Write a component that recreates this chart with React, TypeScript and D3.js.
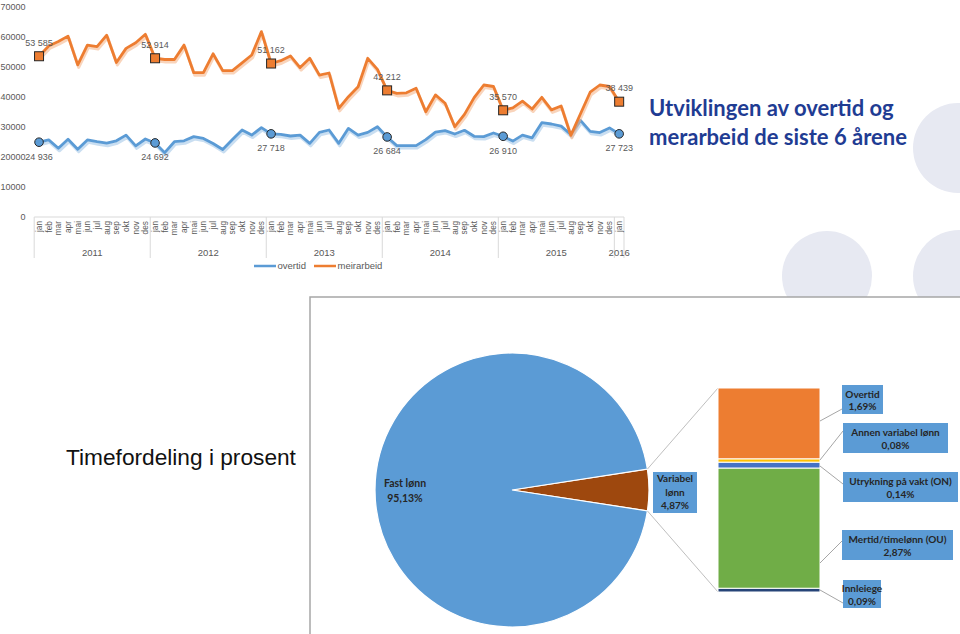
import React from 'react';
import * as d3 from 'd3';

// ---------- DATA ----------
const years = ['2011', '2012', '2013', '2014', '2015', '2016'];
const monthNames = ['jan', 'feb', 'mar', 'apr', 'mai', 'jun', 'jul', 'aug', 'sep', 'okt', 'nov', 'des'];
const seriesNames = ['overtid', 'meirarbeid'];

const overtid = [
  24936, 25700, 22900, 25900, 22600, 25700, 25100, 24600, 25400, 27300, 23700, 26000,
  24692, 21450, 25100, 25400, 26800, 26200, 24500, 22500, 25800, 29000, 27300, 29800,
  27718, 27550, 27000, 27300, 24550, 28200, 29000, 24550, 29550, 27300, 28200, 30100,
  26684, 23800, 23800, 23800, 25800, 28300, 28800, 27650, 28900, 26900, 26800, 28000,
  26910, 25300, 27300, 26400, 31450, 31000, 30300, 27500, 32200, 28550, 28150, 29700,
  27723,
];
const meirarbeid = [
  53585, 57000, 58500, 60300, 50700, 57300, 56800, 60600, 51500, 56200, 58100, 60900,
  52914, 52500, 52500, 57300, 48100, 48100, 54400, 48800, 48800, 51400, 54000, 61800,
  51162, 52100, 53700, 49800, 52900, 47300, 48000, 36200, 40100, 43400, 52900, 49200,
  42212, 41200, 41400, 42900, 35100, 40700, 37900, 30100, 34200, 39800, 44000, 43500,
  35570, 36400, 38600, 36000, 39900, 35700, 37000, 27200, 34400, 41600, 44000, 43500,
  38439,
];
const yTicks = [0, 10000, 20000, 30000, 40000, 50000, 60000, 70000];
const labeledIdx = [0, 12, 24, 36, 48, 60];

const pieNames = ['Variabel lønn', 'Fast lønn'];
const pieValues = [4.87, 95.13];
const pieValueText = ['4,87%', '95,13%'];

// stacked from bottom to top
const barNames = ['Innleiege', 'Mertid/timelønn (OU)', 'Utrykning på vakt (ON)', 'Annen variabel lønn', 'Overtid'];
const barValues = [0.09, 2.87, 0.14, 0.08, 1.69];
const barValueText = ['0,09%', '2,87%', '0,14%', '0,08%', '1,69%'];

// ---------- STYLE / LAYOUT ----------
const BLUE = '#5B9BD5';
const ORANGE = '#ED7D31';
const BROWN = '#9E480E';
const barColors = ['#264478', '#70AD47', '#4472C4', '#FFC000', '#ED7D31'];
const GRAY_TXT = '#595959';
const SANS = '"Liberation Sans", Arial, sans-serif';
const LATO = 'Lato, "Open Sans", sans-serif';
const LBL = 10;

// label boxes for bar segments (x, y, w, h) and leader start y
const barBoxes = [
  { x: 843, y: 580, w: 38, h: 28, ly: 590, tx: 843, ty: 603 },
  { x: 842, y: 530, w: 111, h: 30, ly: 563, tx: 842, ty: 541 },
  { x: 843, y: 472, w: 115, h: 30, ly: 466, tx: 843, ty: 484 },
  { x: 843, y: 423, w: 105, h: 30, ly: 460, tx: 843, ty: 431 },
  { x: 842, y: 385, w: 41, h: 29, ly: 421, tx: 842, ty: 409 },
];

const fmt = d3
  .formatLocale({ decimal: ',', thousands: '\u00a0', grouping: [3], currency: ['', ''] })
  .format(',d');

export default function App() {
  const categories = years.flatMap((yr, k) =>
    (k < years.length - 1 ? monthNames : monthNames.slice(0, 1)).map((m) => ({ year: yr, month: m }))
  );
  const n = categories.length;

  const x = d3.scaleBand<number>().domain(d3.range(n)).range([34.2, 624]);
  const cx = (i: number) => (x(i) as number) + x.bandwidth() / 2;
  const y = d3.scaleLinear().domain([0, 70000]).range([217, 7]);
  const line = d3
    .line<number>()
    .x((_, i) => cx(i))
    .y((d) => y(d));

  const yearGroups = years.map((yr) => {
    const idx = categories.map((c, i) => (c.year === yr ? i : -1)).filter((i) => i >= 0);
    const x0 = x(idx[0]) as number;
    const x1 = (x(idx[idx.length - 1]) as number) + x.bandwidth();
    return { yr, x0, x1 };
  });

  // pie
  const pcx = 512;
  const pcy = 490;
  const pr = 137;
  const half = (pieValues[0] / d3.sum(pieValues)) * Math.PI;
  const pie = d3
    .pie<number>()
    .sort(null)
    .startAngle(Math.PI / 2 - half)
    .endAngle(Math.PI / 2 - half + 2 * Math.PI)(pieValues);
  const arc = d3.arc<d3.PieArcDatum<number>>().innerRadius(0).outerRadius(pr);
  const a0 = Math.PI / 2 - half;
  const a1 = Math.PI / 2 + half;
  const upper = [pcx + pr * Math.sin(a0), pcy - pr * Math.cos(a0)];
  const lower = [pcx + pr * Math.sin(a1), pcy - pr * Math.cos(a1)];

  // bar of pie
  const bx0 = 718;
  const bx1 = 820;
  const yBar = d3.scaleLinear().domain([0, d3.sum(barValues)]).range([592, 388]);
  let acc = 0;
  const segs = barValues.map((v, i) => {
    const s = { y0: acc, y1: acc + v, i };
    acc += v;
    return s;
  });

  const series = [
    { name: seriesNames[0], values: overtid, color: BLUE, shadow: '#9DC3E6' },
    { name: seriesNames[1], values: meirarbeid, color: ORANGE, shadow: '#F4B183' },
  ];

  return (
    <svg
      width={960}
      height={634}
      style={{ position: 'absolute', left: 0, top: 0, background: '#fff' }}
    >
      <rect x={0} y={0} width={960} height={634} fill="#fff" />

      {/* decorative circles */}
      <circle cx={958} cy={148} r={45} fill="#E7E9F2" />
      <circle cx={827} cy={276} r={45} fill="#E7E9F2" />
      <circle cx={959} cy={276} r={46} fill="#E7E9F2" />

      {/* y axis labels */}
      {yTicks.map((t) => (
        <text key={t} x={25.5} y={y(t)} dy="0.35em" textAnchor="end" fontSize={9} fill={GRAY_TXT} fontFamily={SANS}>
          {t}
        </text>
      ))}

      {/* x axis */}
      <line x1={34.2} x2={624} y1={217} y2={217} stroke="#D9D9D9" strokeWidth={1} />
      {yearGroups.map((g) => (
        <line key={'s' + g.yr} x1={g.x0} x2={g.x0} y1={217} y2={258} stroke="#D9D9D9" strokeWidth={1} />
      ))}
      <line x1={624} x2={624} y1={217} y2={258} stroke="#D9D9D9" strokeWidth={1} />
      {categories.map((c, i) => (
        <text
          key={'m' + i}
          transform={`translate(${cx(i)},221) rotate(-90)`}
          textAnchor="end"
          dy="0.35em"
          fontSize={8.3}
          fill={GRAY_TXT}
          fontFamily={SANS}
        >
          {c.month}
        </text>
      ))}
      {yearGroups.map((g) => (
        <text key={'y' + g.yr} x={(g.x0 + g.x1) / 2} y={256} textAnchor="middle" fontSize={9.5} fill={GRAY_TXT} fontFamily={SANS}>
          {g.yr}
        </text>
      ))}

      {/* lines */}
      {series.map((s) => (
        <g key={s.name}>
          <path d={line(s.values) || ''} transform="translate(1,2.5)" fill="none" stroke={s.shadow} strokeWidth={3} opacity={0.55} strokeLinejoin="round" />
          <path d={line(s.values) || ''} fill="none" stroke={s.color} strokeWidth={2.8} strokeLinejoin="round" />
        </g>
      ))}

      {/* markers & labels */}
      {labeledIdx.map((i) => (
        <g key={'lab' + i}>
          <rect x={cx(i) - 4.5} y={y(meirarbeid[i]) - 4.5} width={9} height={9} fill={ORANGE} stroke="#262626" strokeWidth={1} />
          <circle cx={cx(i)} cy={y(overtid[i])} r={4.3} fill={BLUE} stroke="#262626" strokeWidth={1} />
          <text x={cx(i)} y={y(meirarbeid[i]) - 10.5} textAnchor="middle" fontSize={9} fill={GRAY_TXT} fontFamily={SANS}>
            {fmt(meirarbeid[i])}
          </text>
          <text x={cx(i)} y={y(overtid[i]) + 17.5} textAnchor="middle" fontSize={9} fill={GRAY_TXT} fontFamily={SANS}>
            {fmt(overtid[i])}
          </text>
        </g>
      ))}

      {/* legend */}
      <line x1={254} x2={276} y1={266} y2={266} stroke={BLUE} strokeWidth={2.5} />
      <text x={277.5} y={266} dy="0.35em" fontSize={9.5} fill={GRAY_TXT} fontFamily={SANS}>
        {seriesNames[0]}
      </text>
      <line x1={314} x2={336} y1={266} y2={266} stroke={ORANGE} strokeWidth={2.5} />
      <text x={337.5} y={266} dy="0.35em" fontSize={9.5} fill={GRAY_TXT} fontFamily={SANS}>
        {seriesNames[1]}
      </text>

      {/* title */}
      <text x={649} y={116} fontSize={22} fontWeight={700} fill="#1F3C93" fontFamily={LATO}>
        Utviklingen av overtid og
      </text>
      <text x={649} y={145} fontSize={22} fontWeight={700} fill="#1F3C93" fontFamily={LATO}>
        merarbeid de siste 6 årene
      </text>

      <text x={66} y={465} fontSize={22.7} fill="#111" fontFamily={SANS}>
        Timefordeling i prosent
      </text>

      {/* pie box */}
      <rect x={310} y={297} width={660} height={350} fill="#fff" stroke="#A6A6A6" strokeWidth={1.5} />

      {/* pie */}
      <g transform={`translate(${pcx},${pcy})`}>
        {pie.map((d, i) => (
          <path key={i} d={arc(d) || ''} fill={i === 0 ? BROWN : BLUE} stroke="#fff" strokeWidth={1.2} />
        ))}
      </g>
      <text x={405} y={487} textAnchor="middle" fontSize={10.5} fontWeight={700} fill="#262626" fontFamily={LATO}>
        {pieNames[1]}
      </text>
      <text x={405} y={502} textAnchor="middle" fontSize={10.5} fontWeight={700} fill="#262626" fontFamily={LATO}>
        {pieValueText[1]}
      </text>
      <rect x={653} y={472} width={44} height={41} fill={BLUE} />
      {[pieNames[0].split(' ')[0], pieNames[0].split(' ')[1], pieValueText[0]].map((t, k) => (
        <text key={t} x={675} y={482 + k * 13.5} textAnchor="middle" fontSize={LBL} fontWeight={700} fill="#262626" fontFamily={LATO}>
          {t}
        </text>
      ))}

      {/* connectors */}
      <line x1={upper[0]} y1={upper[1]} x2={bx0} y2={yBar(d3.sum(barValues))} stroke="#BFBFBF" strokeWidth={1} />
      <line x1={lower[0]} y1={lower[1]} x2={bx0} y2={yBar(0)} stroke="#BFBFBF" strokeWidth={1} />

      {/* bar of pie */}
      {segs.map((s) => (
        <rect
          key={'b' + s.i}
          x={bx0}
          y={yBar(s.y1)}
          width={bx1 - bx0}
          height={yBar(s.y0) - yBar(s.y1)}
          fill={barColors[s.i]}
          stroke="#fff"
          strokeWidth={1}
        />
      ))}

      {/* bar labels */}
      {barBoxes.map((b, i) => (
        <g key={'bl' + i}>
          <line x1={bx1} y1={b.ly} x2={b.tx} y2={b.ty} stroke="#A6A6A6" strokeWidth={1} />
          <rect x={b.x} y={b.y} width={b.w} height={b.h} fill={BLUE} />
          <text x={b.x + b.w / 2} y={b.y + b.h / 2 - 2} textAnchor="middle" fontSize={LBL} fontWeight={700} fill="#262626" fontFamily={LATO}>
            {barNames[i]}
          </text>
          <text x={b.x + b.w / 2} y={b.y + b.h / 2 + 10.5} textAnchor="middle" fontSize={LBL} fontWeight={700} fill="#262626" fontFamily={LATO}>
            {barValueText[i]}
          </text>
        </g>
      ))}
    </svg>
  );
}
